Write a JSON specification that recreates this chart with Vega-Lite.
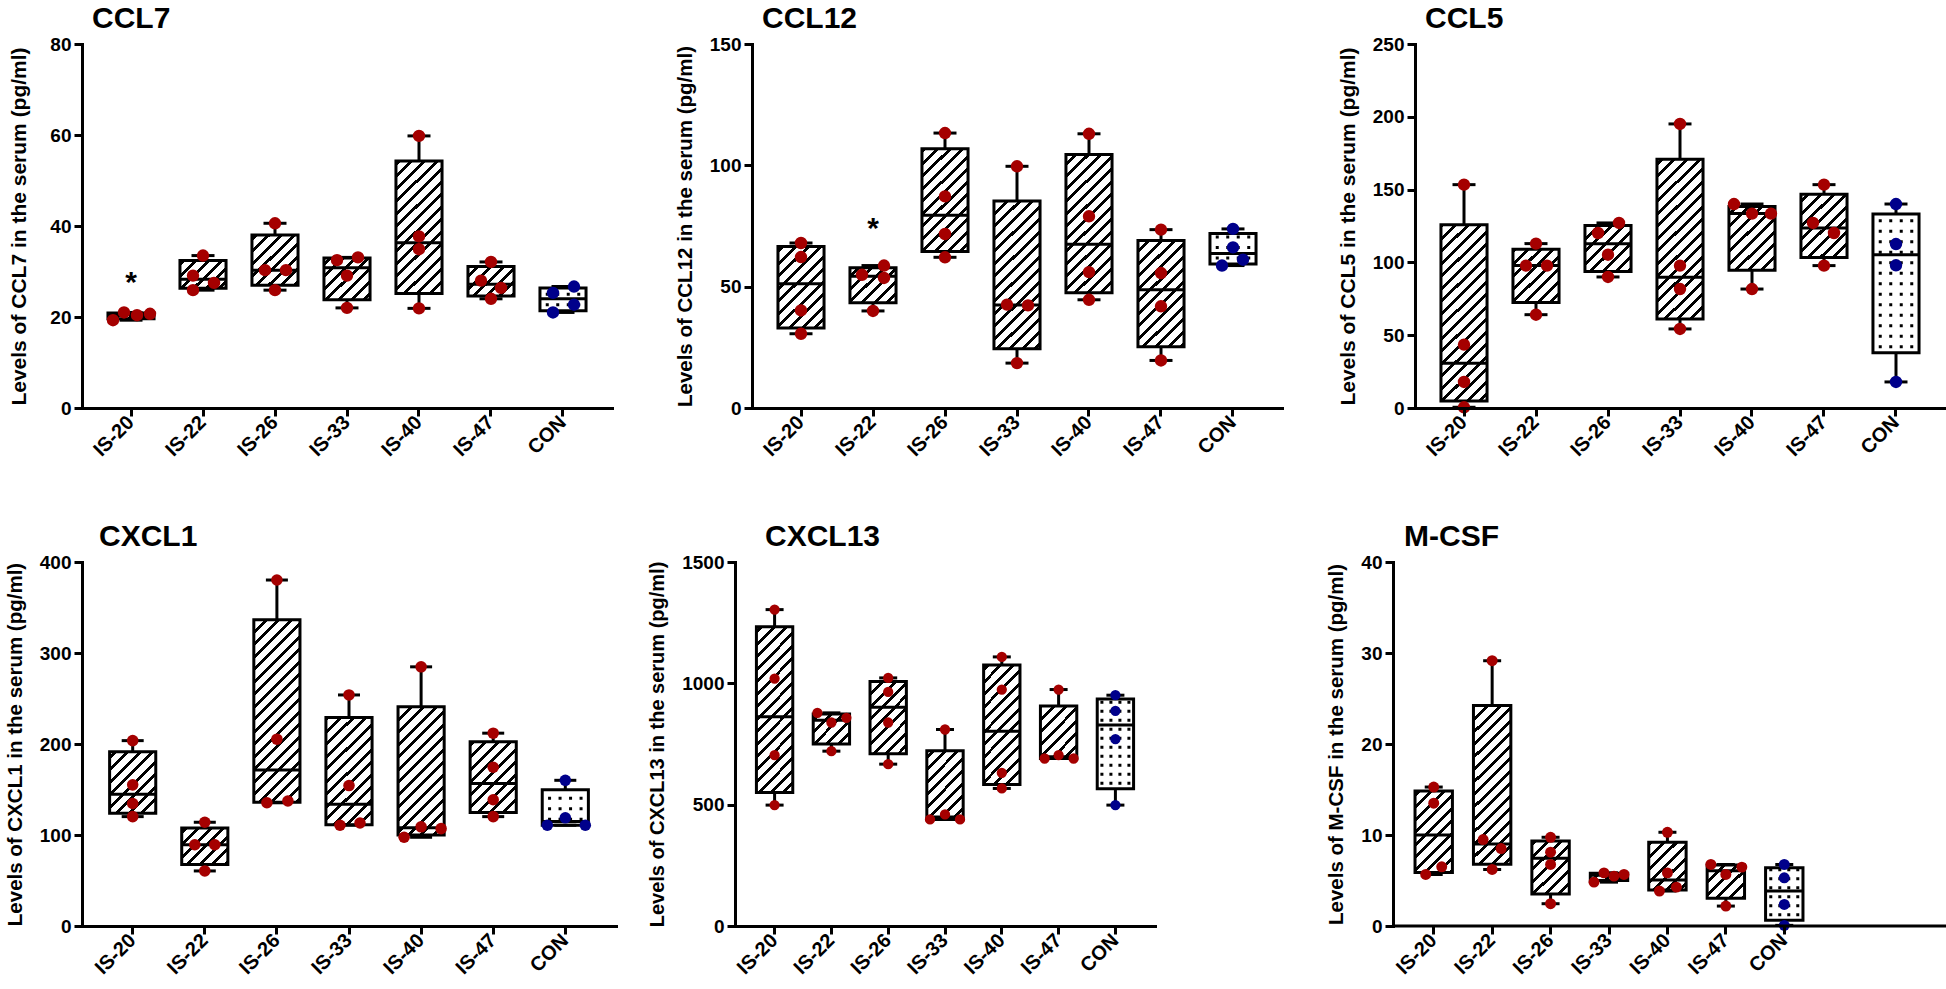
{
"$schema": "https://vega.github.io/schema/vega-lite/v6.json",
"background": "white",
"padding": {"left": 5, "top": 4, "right": 0, "bottom": 0},
"datasets": {
"box": [
{"panel":"CCL7","group":"IS-20","lo":19.3,"q1":19.6,"med":20.55,"q3":20.9,"hi":21.0},
{"panel":"CCL7","group":"IS-22","lo":25.9,"q1":26.3,"med":28.3,"q3":32.4,"hi":33.5},
{"panel":"CCL7","group":"IS-26","lo":25.9,"q1":27.0,"med":30.3,"q3":38.0,"hi":40.6},
{"panel":"CCL7","group":"IS-33","lo":22.0,"q1":23.8,"med":30.8,"q3":32.95,"hi":33.1},
{"panel":"CCL7","group":"IS-40","lo":21.9,"q1":25.15,"med":36.3,"q3":54.3,"hi":59.8},
{"panel":"CCL7","group":"IS-47","lo":24.0,"q1":24.6,"med":27.2,"q3":31.1,"hi":32.1},
{"panel":"CCL7","group":"CON","lo":21.0,"q1":21.4,"med":24.0,"q3":26.35,"hi":26.7},
{"panel":"CCL12","group":"IS-20","lo":30.6,"q1":33.0,"med":51.2,"q3":66.55,"hi":68.0},
{"panel":"CCL12","group":"IS-22","lo":40.0,"q1":43.4,"med":54.25,"q3":57.75,"hi":58.7},
{"panel":"CCL12","group":"IS-26","lo":62.1,"q1":64.5,"med":79.45,"q3":106.8,"hi":113.3},
{"panel":"CCL12","group":"IS-33","lo":18.5,"q1":24.45,"med":42.45,"q3":85.35,"hi":99.6},
{"panel":"CCL12","group":"IS-40","lo":44.6,"q1":47.45,"med":67.5,"q3":104.5,"hi":113.0},
{"panel":"CCL12","group":"IS-47","lo":19.6,"q1":25.2,"med":48.75,"q3":69.0,"hi":73.5},
{"panel":"CCL12","group":"CON","lo":58.7,"q1":59.3,"med":63.65,"q3":71.9,"hi":73.8},
{"panel":"CCL5","group":"IS-20","lo":0.5,"q1":4.85,"med":30.7,"q3":125.9,"hi":153.4},
{"panel":"CCL5","group":"IS-22","lo":64.1,"q1":72.5,"med":97.8,"q3":109.1,"hi":112.9},
{"panel":"CCL5","group":"IS-26","lo":90.0,"q1":93.8,"med":112.75,"q3":125.4,"hi":127.1},
{"panel":"CCL5","group":"IS-33","lo":54.3,"q1":61.15,"med":89.75,"q3":170.8,"hi":195.1},
{"panel":"CCL5","group":"IS-40","lo":81.7,"q1":94.65,"med":133.5,"q3":138.45,"hi":140.1},
{"panel":"CCL5","group":"IS-47","lo":97.8,"q1":103.4,"med":123.65,"q3":146.8,"hi":153.4},
{"panel":"CCL5","group":"CON","lo":17.9,"q1":37.9,"med":105.3,"q3":133.2,"hi":140.1},
{"panel":"CXCL1","group":"IS-20","lo":120.2,"q1":123.8,"med":144.85,"q3":191.55,"hi":203.7},
{"panel":"CXCL1","group":"IS-22","lo":60.5,"q1":67.7,"med":89.3,"q3":107.8,"hi":114.0},
{"panel":"CXCL1","group":"IS-26","lo":135.4,"q1":135.9,"med":171.35,"q3":336.5,"hi":380.2},
{"panel":"CXCL1","group":"IS-33","lo":110.7,"q1":111.3,"med":133.75,"q3":229.0,"hi":253.9},
{"panel":"CXCL1","group":"IS-40","lo":97.5,"q1":99.9,"med":108.0,"q3":240.85,"hi":284.8},
{"panel":"CXCL1","group":"IS-47","lo":120.2,"q1":124.8,"med":156.6,"q3":202.55,"hi":211.9},
{"panel":"CXCL1","group":"CON","lo":110.7,"q1":110.7,"med":114.8,"q3":149.8,"hi":160.1},
{"panel":"CXCL13","group":"IS-20","lo":498.2,"q1":549.7,"med":861.85,"q3":1232.8,"hi":1303.8},
{"panel":"CXCL13","group":"IS-22","lo":720.5,"q1":750.0,"med":848.2,"q3":873.2,"hi":878.3},
{"panel":"CXCL13","group":"IS-26","lo":667.0,"q1":709.9,"med":901.65,"q3":1008.0,"hi":1022.4},
{"panel":"CXCL13","group":"IS-33","lo":439.2,"q1":439.2,"med":449.5,"q3":722.2,"hi":809.7},
{"panel":"CXCL13","group":"IS-40","lo":566.8,"q1":582.9,"med":802.85,"q3":1075.3,"hi":1108.9},
{"panel":"CXCL13","group":"IS-47","lo":690.3,"q1":690.3,"med":697.15,"q3":906.8,"hi":974.4},
{"panel":"CXCL13","group":"CON","lo":498.2,"q1":566.1,"med":828.25,"q3":935.0,"hi":951.1},
{"panel":"M-CSF","group":"IS-20","lo":5.66,"q1":5.87,"med":10.0,"q3":14.83,"hi":15.27},
{"panel":"M-CSF","group":"IS-22","lo":6.21,"q1":6.79,"med":9.0,"q3":24.24,"hi":29.15},
{"panel":"M-CSF","group":"IS-26","lo":2.45,"q1":3.53,"med":7.44,"q3":9.34,"hi":9.75},
{"panel":"M-CSF","group":"IS-33","lo":4.82,"q1":4.99,"med":5.57,"q3":5.8,"hi":5.84},
{"panel":"M-CSF","group":"IS-40","lo":3.84,"q1":3.95,"med":5.06,"q3":9.19,"hi":10.3},
{"panel":"M-CSF","group":"IS-47","lo":2.19,"q1":3.06,"med":6.07,"q3":6.69,"hi":6.76},
{"panel":"M-CSF","group":"CON","lo":0.07,"q1":0.645,"med":3.835,"q3":6.4,"hi":6.76}
],
"pts": [
{"panel":"CCL7","group":"IS-20","v":19.3,"slot":-1.8},{"panel":"CCL7","group":"IS-20","v":21.0,"slot":-0.7},{"panel":"CCL7","group":"IS-20","v":20.4,"slot":0.6},{"panel":"CCL7","group":"IS-20","v":20.7,"slot":1.9},
{"panel":"CCL7","group":"IS-22","v":33.5,"slot":0},{"panel":"CCL7","group":"IS-22","v":29.1,"slot":-1},{"panel":"CCL7","group":"IS-22","v":25.9,"slot":-1},{"panel":"CCL7","group":"IS-22","v":27.5,"slot":1.1},
{"panel":"CCL7","group":"IS-26","v":40.6,"slot":0},{"panel":"CCL7","group":"IS-26","v":30.3,"slot":-1},{"panel":"CCL7","group":"IS-26","v":30.3,"slot":1.1},{"panel":"CCL7","group":"IS-26","v":25.9,"slot":0},
{"panel":"CCL7","group":"IS-33","v":32.5,"slot":-1},{"panel":"CCL7","group":"IS-33","v":33.1,"slot":1.1},{"panel":"CCL7","group":"IS-33","v":29.1,"slot":0},{"panel":"CCL7","group":"IS-33","v":22.0,"slot":0},
{"panel":"CCL7","group":"IS-40","v":59.8,"slot":0},{"panel":"CCL7","group":"IS-40","v":37.7,"slot":0},{"panel":"CCL7","group":"IS-40","v":34.9,"slot":0},{"panel":"CCL7","group":"IS-40","v":21.9,"slot":0},
{"panel":"CCL7","group":"IS-47","v":32.1,"slot":0},{"panel":"CCL7","group":"IS-47","v":28.0,"slot":-1},{"panel":"CCL7","group":"IS-47","v":26.4,"slot":1},{"panel":"CCL7","group":"IS-47","v":24.0,"slot":0},
{"panel":"CCL7","group":"CON","v":25.3,"slot":-1},{"panel":"CCL7","group":"CON","v":26.7,"slot":1.1},{"panel":"CCL7","group":"CON","v":22.7,"slot":1.1},{"panel":"CCL7","group":"CON","v":21.0,"slot":-1},
{"panel":"CCL12","group":"IS-20","v":68.0,"slot":0},{"panel":"CCL12","group":"IS-20","v":62.2,"slot":0},{"panel":"CCL12","group":"IS-20","v":40.2,"slot":0},{"panel":"CCL12","group":"IS-20","v":30.6,"slot":0},
{"panel":"CCL12","group":"IS-22","v":54.9,"slot":-1.1},{"panel":"CCL12","group":"IS-22","v":58.7,"slot":1.1},{"panel":"CCL12","group":"IS-22","v":53.6,"slot":1.1},{"panel":"CCL12","group":"IS-22","v":40.0,"slot":0},
{"panel":"CCL12","group":"IS-26","v":113.3,"slot":0},{"panel":"CCL12","group":"IS-26","v":87.2,"slot":0},{"panel":"CCL12","group":"IS-26","v":71.7,"slot":0},{"panel":"CCL12","group":"IS-26","v":62.1,"slot":0},
{"panel":"CCL12","group":"IS-33","v":99.6,"slot":0},{"panel":"CCL12","group":"IS-33","v":42.6,"slot":-1},{"panel":"CCL12","group":"IS-33","v":42.3,"slot":1.1},{"panel":"CCL12","group":"IS-33","v":18.5,"slot":0},
{"panel":"CCL12","group":"IS-40","v":113.0,"slot":0},{"panel":"CCL12","group":"IS-40","v":79.0,"slot":0},{"panel":"CCL12","group":"IS-40","v":56.0,"slot":0},{"panel":"CCL12","group":"IS-40","v":44.6,"slot":0},
{"panel":"CCL12","group":"IS-47","v":73.5,"slot":0},{"panel":"CCL12","group":"IS-47","v":55.6,"slot":0},{"panel":"CCL12","group":"IS-47","v":41.9,"slot":0},{"panel":"CCL12","group":"IS-47","v":19.6,"slot":0},
{"panel":"CCL12","group":"CON","v":73.8,"slot":0},{"panel":"CCL12","group":"CON","v":66.2,"slot":0},{"panel":"CCL12","group":"CON","v":61.1,"slot":1},{"panel":"CCL12","group":"CON","v":58.7,"slot":-1.1},
{"panel":"CCL5","group":"IS-20","v":153.4,"slot":0},{"panel":"CCL5","group":"IS-20","v":43.5,"slot":0},{"panel":"CCL5","group":"IS-20","v":17.9,"slot":0},{"panel":"CCL5","group":"IS-20","v":0.5,"slot":0},
{"panel":"CCL5","group":"IS-22","v":112.9,"slot":0},{"panel":"CCL5","group":"IS-22","v":97.8,"slot":-1},{"panel":"CCL5","group":"IS-22","v":97.8,"slot":1.1},{"panel":"CCL5","group":"IS-22","v":64.1,"slot":0},
{"panel":"CCL5","group":"IS-26","v":127.1,"slot":1.1},{"panel":"CCL5","group":"IS-26","v":120.2,"slot":-1},{"panel":"CCL5","group":"IS-26","v":105.3,"slot":0},{"panel":"CCL5","group":"IS-26","v":90.0,"slot":0},
{"panel":"CCL5","group":"IS-33","v":195.1,"slot":0},{"panel":"CCL5","group":"IS-33","v":97.8,"slot":0},{"panel":"CCL5","group":"IS-33","v":81.7,"slot":0},{"panel":"CCL5","group":"IS-33","v":54.3,"slot":0},
{"panel":"CCL5","group":"IS-40","v":140.1,"slot":-1.8},{"panel":"CCL5","group":"IS-40","v":133.5,"slot":0},{"panel":"CCL5","group":"IS-40","v":133.5,"slot":1.9},{"panel":"CCL5","group":"IS-40","v":81.7,"slot":0},
{"panel":"CCL5","group":"IS-47","v":153.4,"slot":0},{"panel":"CCL5","group":"IS-47","v":127.1,"slot":-1.1},{"panel":"CCL5","group":"IS-47","v":120.2,"slot":1},{"panel":"CCL5","group":"IS-47","v":97.8,"slot":0},
{"panel":"CCL5","group":"CON","v":140.1,"slot":0},{"panel":"CCL5","group":"CON","v":112.6,"slot":0},{"panel":"CCL5","group":"CON","v":98.0,"slot":0},{"panel":"CCL5","group":"CON","v":17.9,"slot":0},
{"panel":"CXCL1","group":"IS-20","v":203.7,"slot":0},{"panel":"CXCL1","group":"IS-20","v":155.1,"slot":0},{"panel":"CXCL1","group":"IS-20","v":134.6,"slot":0},{"panel":"CXCL1","group":"IS-20","v":120.2,"slot":0},
{"panel":"CXCL1","group":"IS-22","v":114.0,"slot":0},{"panel":"CXCL1","group":"IS-22","v":89.3,"slot":-1},{"panel":"CXCL1","group":"IS-22","v":89.3,"slot":1},{"panel":"CXCL1","group":"IS-22","v":60.5,"slot":0},
{"panel":"CXCL1","group":"IS-26","v":380.2,"slot":0},{"panel":"CXCL1","group":"IS-26","v":205.3,"slot":0},{"panel":"CXCL1","group":"IS-26","v":135.4,"slot":-1},{"panel":"CXCL1","group":"IS-26","v":137.4,"slot":1.1},
{"panel":"CXCL1","group":"IS-33","v":253.9,"slot":0},{"panel":"CXCL1","group":"IS-33","v":154.3,"slot":0},{"panel":"CXCL1","group":"IS-33","v":110.7,"slot":-0.9},{"panel":"CXCL1","group":"IS-33","v":113.2,"slot":1.1},
{"panel":"CXCL1","group":"IS-40","v":284.8,"slot":0},{"panel":"CXCL1","group":"IS-40","v":97.5,"slot":-1.7},{"panel":"CXCL1","group":"IS-40","v":109.0,"slot":0},{"panel":"CXCL1","group":"IS-40","v":107.0,"slot":2.0},
{"panel":"CXCL1","group":"IS-47","v":211.9,"slot":0},{"panel":"CXCL1","group":"IS-47","v":174.5,"slot":0},{"panel":"CXCL1","group":"IS-47","v":138.7,"slot":0},{"panel":"CXCL1","group":"IS-47","v":120.2,"slot":0},
{"panel":"CXCL1","group":"CON","v":160.1,"slot":0},{"panel":"CXCL1","group":"CON","v":118.9,"slot":0},{"panel":"CXCL1","group":"CON","v":110.7,"slot":-1.8},{"panel":"CXCL1","group":"CON","v":110.7,"slot":2.0},
{"panel":"CXCL13","group":"IS-20","v":1303.8,"slot":0},{"panel":"CXCL13","group":"IS-20","v":1019.7,"slot":0},{"panel":"CXCL13","group":"IS-20","v":704.0,"slot":0},{"panel":"CXCL13","group":"IS-20","v":498.2,"slot":0},
{"panel":"CXCL13","group":"IS-22","v":878.3,"slot":-1.4},{"panel":"CXCL13","group":"IS-22","v":857.8,"slot":1.5},{"panel":"CXCL13","group":"IS-22","v":838.5,"slot":0},{"panel":"CXCL13","group":"IS-22","v":720.5,"slot":0},
{"panel":"CXCL13","group":"IS-26","v":1022.4,"slot":0},{"panel":"CXCL13","group":"IS-26","v":964.8,"slot":0},{"panel":"CXCL13","group":"IS-26","v":838.5,"slot":0},{"panel":"CXCL13","group":"IS-26","v":667.0,"slot":0},
{"panel":"CXCL13","group":"IS-33","v":809.7,"slot":0},{"panel":"CXCL13","group":"IS-33","v":439.2,"slot":-1.5},{"panel":"CXCL13","group":"IS-33","v":459.8,"slot":0},{"panel":"CXCL13","group":"IS-33","v":439.2,"slot":1.5},
{"panel":"CXCL13","group":"IS-40","v":1108.9,"slot":0},{"panel":"CXCL13","group":"IS-40","v":974.4,"slot":0},{"panel":"CXCL13","group":"IS-40","v":631.3,"slot":0},{"panel":"CXCL13","group":"IS-40","v":566.8,"slot":0},
{"panel":"CXCL13","group":"IS-47","v":974.4,"slot":0},{"panel":"CXCL13","group":"IS-47","v":690.3,"slot":-1.4},{"panel":"CXCL13","group":"IS-47","v":704.0,"slot":0},{"panel":"CXCL13","group":"IS-47","v":690.3,"slot":1.5},
{"panel":"CXCL13","group":"CON","v":951.1,"slot":0},{"panel":"CXCL13","group":"CON","v":886.6,"slot":0},{"panel":"CXCL13","group":"CON","v":769.9,"slot":0},{"panel":"CXCL13","group":"CON","v":498.2,"slot":0},
{"panel":"M-CSF","group":"IS-20","v":15.27,"slot":0},{"panel":"M-CSF","group":"IS-20","v":13.5,"slot":0},{"panel":"M-CSF","group":"IS-20","v":5.66,"slot":-0.8},{"panel":"M-CSF","group":"IS-20","v":6.5,"slot":0.8},
{"panel":"M-CSF","group":"IS-22","v":29.15,"slot":0},{"panel":"M-CSF","group":"IS-22","v":9.5,"slot":-0.9},{"panel":"M-CSF","group":"IS-22","v":8.51,"slot":0.9},{"panel":"M-CSF","group":"IS-22","v":6.21,"slot":0},
{"panel":"M-CSF","group":"IS-26","v":9.75,"slot":0},{"panel":"M-CSF","group":"IS-26","v":8.11,"slot":0},{"panel":"M-CSF","group":"IS-26","v":6.76,"slot":0},{"panel":"M-CSF","group":"IS-26","v":2.45,"slot":0},
{"panel":"M-CSF","group":"IS-33","v":4.82,"slot":-1.5},{"panel":"M-CSF","group":"IS-33","v":5.84,"slot":-0.5},{"panel":"M-CSF","group":"IS-33","v":5.48,"slot":0.5},{"panel":"M-CSF","group":"IS-33","v":5.66,"slot":1.5},
{"panel":"M-CSF","group":"IS-40","v":10.3,"slot":0},{"panel":"M-CSF","group":"IS-40","v":5.84,"slot":0},{"panel":"M-CSF","group":"IS-40","v":3.84,"slot":-0.8},{"panel":"M-CSF","group":"IS-40","v":4.27,"slot":0.9},
{"panel":"M-CSF","group":"IS-47","v":6.76,"slot":-1.5},{"panel":"M-CSF","group":"IS-47","v":6.47,"slot":1.6},{"panel":"M-CSF","group":"IS-47","v":5.66,"slot":0},{"panel":"M-CSF","group":"IS-47","v":2.19,"slot":0},
{"panel":"M-CSF","group":"CON","v":6.76,"slot":0},{"panel":"M-CSF","group":"CON","v":5.3,"slot":0},{"panel":"M-CSF","group":"CON","v":2.37,"slot":0},{"panel":"M-CSF","group":"CON","v":0.07,"slot":0}
],
"ann": [
{"panel":"CCL7","group":"IS-20","v":29.2,"label":"*"},
{"panel":"CCL12","group":"IS-22","v":77.0,"label":"*"}
]
},
"vconcat": [
{"spacing": 63, "hconcat": [
{
"width": 530, "height": 364,
"title": {"text": "CCL7", "dx": 10},
"encoding": {"x": {"field": "group", "type": "nominal", "title": null, "axis": {"zindex": 1}, "scale": {"type": "band", "domain": ["IS-20","IS-22","IS-26","IS-33","IS-40","IS-47","CON"], "paddingInner": 0.36, "paddingOuter": 0.3606}}},
"layer": [
{"data": {"name": "box"}, "transform": [{"filter": "datum.panel === 'CCL7' && datum.group !== 'CON'"}], "mark": {"type": "bar", "fill": {"gradient": "linear", "x1": 0, "y1": 0, "x2": 0.1401, "y2": 1.1087, "stops": [
{"offset":0.01463,"color":"#fff"},{"offset":0.01463,"color":"#000"},{"offset":0.02439,"color":"#000"},{"offset":0.02439,"color":"#fff"},
{"offset":0.04512,"color":"#fff"},{"offset":0.04512,"color":"#000"},{"offset":0.05488,"color":"#000"},{"offset":0.05488,"color":"#fff"},
{"offset":0.07561,"color":"#fff"},{"offset":0.07561,"color":"#000"},{"offset":0.08537,"color":"#000"},{"offset":0.08537,"color":"#fff"},
{"offset":0.1061,"color":"#fff"},{"offset":0.1061,"color":"#000"},{"offset":0.11585,"color":"#000"},{"offset":0.11585,"color":"#fff"},
{"offset":0.13659,"color":"#fff"},{"offset":0.13659,"color":"#000"},{"offset":0.14634,"color":"#000"},{"offset":0.14634,"color":"#fff"},
{"offset":0.16707,"color":"#fff"},{"offset":0.16707,"color":"#000"},{"offset":0.17683,"color":"#000"},{"offset":0.17683,"color":"#fff"},
{"offset":0.19756,"color":"#fff"},{"offset":0.19756,"color":"#000"},{"offset":0.20732,"color":"#000"},{"offset":0.20732,"color":"#fff"},
{"offset":0.22805,"color":"#fff"},{"offset":0.22805,"color":"#000"},{"offset":0.2378,"color":"#000"},{"offset":0.2378,"color":"#fff"},
{"offset":0.25854,"color":"#fff"},{"offset":0.25854,"color":"#000"},{"offset":0.26829,"color":"#000"},{"offset":0.26829,"color":"#fff"},
{"offset":0.28902,"color":"#fff"},{"offset":0.28902,"color":"#000"},{"offset":0.29878,"color":"#000"},{"offset":0.29878,"color":"#fff"},
{"offset":0.31951,"color":"#fff"},{"offset":0.31951,"color":"#000"},{"offset":0.32927,"color":"#000"},{"offset":0.32927,"color":"#fff"},
{"offset":0.35,"color":"#fff"},{"offset":0.35,"color":"#000"},{"offset":0.35976,"color":"#000"},{"offset":0.35976,"color":"#fff"},
{"offset":0.38049,"color":"#fff"},{"offset":0.38049,"color":"#000"},{"offset":0.39024,"color":"#000"},{"offset":0.39024,"color":"#fff"},
{"offset":0.41098,"color":"#fff"},{"offset":0.41098,"color":"#000"},{"offset":0.42073,"color":"#000"},{"offset":0.42073,"color":"#fff"},
{"offset":0.44146,"color":"#fff"},{"offset":0.44146,"color":"#000"},{"offset":0.45122,"color":"#000"},{"offset":0.45122,"color":"#fff"},
{"offset":0.47195,"color":"#fff"},{"offset":0.47195,"color":"#000"},{"offset":0.48171,"color":"#000"},{"offset":0.48171,"color":"#fff"},
{"offset":0.50244,"color":"#fff"},{"offset":0.50244,"color":"#000"},{"offset":0.5122,"color":"#000"},{"offset":0.5122,"color":"#fff"},
{"offset":0.53293,"color":"#fff"},{"offset":0.53293,"color":"#000"},{"offset":0.54268,"color":"#000"},{"offset":0.54268,"color":"#fff"},
{"offset":0.56341,"color":"#fff"},{"offset":0.56341,"color":"#000"},{"offset":0.57317,"color":"#000"},{"offset":0.57317,"color":"#fff"},
{"offset":0.5939,"color":"#fff"},{"offset":0.5939,"color":"#000"},{"offset":0.60366,"color":"#000"},{"offset":0.60366,"color":"#fff"},
{"offset":0.62439,"color":"#fff"},{"offset":0.62439,"color":"#000"},{"offset":0.63415,"color":"#000"},{"offset":0.63415,"color":"#fff"},
{"offset":0.65488,"color":"#fff"},{"offset":0.65488,"color":"#000"},{"offset":0.66463,"color":"#000"},{"offset":0.66463,"color":"#fff"},
{"offset":0.68537,"color":"#fff"},{"offset":0.68537,"color":"#000"},{"offset":0.69512,"color":"#000"},{"offset":0.69512,"color":"#fff"},
{"offset":0.71585,"color":"#fff"},{"offset":0.71585,"color":"#000"},{"offset":0.72561,"color":"#000"},{"offset":0.72561,"color":"#fff"},
{"offset":0.74634,"color":"#fff"},{"offset":0.74634,"color":"#000"},{"offset":0.7561,"color":"#000"},{"offset":0.7561,"color":"#fff"},
{"offset":0.77683,"color":"#fff"},{"offset":0.77683,"color":"#000"},{"offset":0.78659,"color":"#000"},{"offset":0.78659,"color":"#fff"},
{"offset":0.80732,"color":"#fff"},{"offset":0.80732,"color":"#000"},{"offset":0.81707,"color":"#000"},{"offset":0.81707,"color":"#fff"},
{"offset":0.8378,"color":"#fff"},{"offset":0.8378,"color":"#000"},{"offset":0.84756,"color":"#000"},{"offset":0.84756,"color":"#fff"},
{"offset":0.86829,"color":"#fff"},{"offset":0.86829,"color":"#000"},{"offset":0.87805,"color":"#000"},{"offset":0.87805,"color":"#fff"},
{"offset":0.89878,"color":"#fff"},{"offset":0.89878,"color":"#000"},{"offset":0.90854,"color":"#000"},{"offset":0.90854,"color":"#fff"},
{"offset":0.92927,"color":"#fff"},{"offset":0.92927,"color":"#000"},{"offset":0.93902,"color":"#000"},{"offset":0.93902,"color":"#fff"},
{"offset":0.95976,"color":"#fff"},{"offset":0.95976,"color":"#000"},{"offset":0.96951,"color":"#000"},{"offset":0.96951,"color":"#fff"},
{"offset":0.99024,"color":"#fff"},{"offset":0.99024,"color":"#000"},{"offset":1,"color":"#000"}
]}}, "encoding": {"y": {"datum": 0, "type": "quantitative", "scale": {"domain": [0, 80], "nice": false}}, "y2": {"datum": 80}}},
{"data": {"name": "box"}, "transform": [{"filter": "datum.panel === 'CCL7' && datum.group !== 'CON'"}], "mark": {"type": "bar", "fill": "white", "width": {"band": 1.12}}, "encoding": {"y": {"field": "q1", "type": "quantitative", "scale": {"domain": [0, 80], "nice": false}, "title": "Levels of  CCL7 in the serum (pg/ml)"}, "y2": {"datum": 0}}},
{"data": {"name": "box"}, "transform": [{"filter": "datum.panel === 'CCL7' && datum.group !== 'CON'"}], "mark": {"type": "bar", "fill": "white", "width": {"band": 1.12}}, "encoding": {"y": {"field": "q3", "type": "quantitative", "scale": {"domain": [0, 80], "nice": false}, "title": "Levels of  CCL7 in the serum (pg/ml)"}, "y2": {"datum": 80}}},
{"data": {"name": "box"}, "transform": [{"filter": "datum.panel === 'CCL7'"}], "mark": {"type": "bar", "fill": "white", "stroke": "black", "strokeWidth": 3}, "encoding": {"y": {"field": "q1", "type": "quantitative", "scale": {"domain": [0, 80], "nice": false}, "axis": {"values": [0,20,40,60,80], "format": "d", "minExtent": 39, "zindex": 1, "titleFontSize": 21}, "title": "Levels of  CCL7 in the serum (pg/ml)"}, "y2": {"field": "q3"}, "fillOpacity": {"condition": {"test": "datum.group === 'CON'", "value": 1}, "value": 0}}},
{"data": {"name": "box"}, "transform": [{"filter": "datum.panel === 'CCL7' && datum.group === 'CON'"}, {"fold": ["lo", "q1", "med", "q3"], "as": ["k", "kv"]}], "mark": {"type": "rule", "color": "black", "strokeWidth": 3, "strokeDash": [3, 7.5], "strokeDashOffset": 6, "xOffset": {"expr": "indexof(['lo','q1','med','q3'], datum.k) * 10.5 - 15.75"}}, "encoding": {"y": {"field": "q1", "type": "quantitative", "scale": {"domain": [0, 80], "nice": false}, "title": "Levels of  CCL7 in the serum (pg/ml)"}, "y2": {"field": "q3"}}},
{"data": {"name": "box"}, "transform": [{"filter": "datum.panel === 'CCL7'"}], "mark": {"type": "tick", "color": "black", "opacity": 1, "thickness": 3, "size": 46}, "encoding": {"y": {"field": "med", "type": "quantitative", "scale": {"domain": [0, 80], "nice": false}, "title": "Levels of  CCL7 in the serum (pg/ml)"}}},
{"data": {"name": "box"}, "transform": [{"filter": "datum.panel === 'CCL7'"}], "mark": {"type": "rule", "color": "black", "strokeWidth": 3}, "encoding": {"y": {"field": "lo", "type": "quantitative", "scale": {"domain": [0, 80], "nice": false}, "title": "Levels of  CCL7 in the serum (pg/ml)"}, "y2": {"field": "q1"}}},
{"data": {"name": "box"}, "transform": [{"filter": "datum.panel === 'CCL7'"}], "mark": {"type": "rule", "color": "black", "strokeWidth": 3}, "encoding": {"y": {"field": "q3", "type": "quantitative", "scale": {"domain": [0, 80], "nice": false}, "title": "Levels of  CCL7 in the serum (pg/ml)"}, "y2": {"field": "hi"}}},
{"data": {"name": "box"}, "transform": [{"filter": "datum.panel === 'CCL7'"}, {"fold": ["lo", "hi"], "as": ["k", "v"]}], "mark": {"type": "tick", "color": "black", "opacity": 1, "thickness": 3, "size": 23}, "encoding": {"y": {"field": "v", "type": "quantitative", "scale": {"domain": [0, 80], "nice": false}, "title": "Levels of  CCL7 in the serum (pg/ml)"}}},
{"data": {"name": "pts"}, "transform": [{"filter": "datum.panel === 'CCL7'"}], "mark": {"type": "circle", "opacity": 1, "size": 154, "xOffset": {"expr": "datum.slot * 10"}}, "encoding": {"y": {"field": "v", "type": "quantitative", "scale": {"domain": [0, 80], "nice": false}, "title": "Levels of  CCL7 in the serum (pg/ml)"}, "color": {"condition": {"test": "datum.group === 'CON'", "value": "#00008b"}, "value": "#a50000"}}},
{"data": {"name": "ann"}, "transform": [{"filter": "datum.panel === 'CCL7'"}], "mark": {"type": "text", "fontSize": 30, "fontWeight": "bold", "baseline": "alphabetic", "dy": 17, "color": "black"}, "encoding": {"y": {"field": "v", "type": "quantitative", "scale": {"domain": [0, 80], "nice": false}, "title": "Levels of  CCL7 in the serum (pg/ml)"}, "text": {"field": "label"}}}
]
},
{"spacing": 55, "hconcat": [
{
"width": 530, "height": 364,
"title": {"text": "CCL12", "dx": 10},
"encoding": {"x": {"field": "group", "type": "nominal", "title": null, "axis": {"zindex": 1}, "scale": {"type": "band", "domain": ["IS-20","IS-22","IS-26","IS-33","IS-40","IS-47","CON"], "paddingInner": 0.36, "paddingOuter": 0.3606}}},
"layer": [
{"data": {"name": "box"}, "transform": [{"filter": "datum.panel === 'CCL12' && datum.group !== 'CON'"}], "mark": {"type": "bar", "fill": {"gradient": "linear", "x1": 0, "y1": 0, "x2": 0.1401, "y2": 1.1087, "stops": [
{"offset":0.01463,"color":"#fff"},{"offset":0.01463,"color":"#000"},{"offset":0.02439,"color":"#000"},{"offset":0.02439,"color":"#fff"},
{"offset":0.04512,"color":"#fff"},{"offset":0.04512,"color":"#000"},{"offset":0.05488,"color":"#000"},{"offset":0.05488,"color":"#fff"},
{"offset":0.07561,"color":"#fff"},{"offset":0.07561,"color":"#000"},{"offset":0.08537,"color":"#000"},{"offset":0.08537,"color":"#fff"},
{"offset":0.1061,"color":"#fff"},{"offset":0.1061,"color":"#000"},{"offset":0.11585,"color":"#000"},{"offset":0.11585,"color":"#fff"},
{"offset":0.13659,"color":"#fff"},{"offset":0.13659,"color":"#000"},{"offset":0.14634,"color":"#000"},{"offset":0.14634,"color":"#fff"},
{"offset":0.16707,"color":"#fff"},{"offset":0.16707,"color":"#000"},{"offset":0.17683,"color":"#000"},{"offset":0.17683,"color":"#fff"},
{"offset":0.19756,"color":"#fff"},{"offset":0.19756,"color":"#000"},{"offset":0.20732,"color":"#000"},{"offset":0.20732,"color":"#fff"},
{"offset":0.22805,"color":"#fff"},{"offset":0.22805,"color":"#000"},{"offset":0.2378,"color":"#000"},{"offset":0.2378,"color":"#fff"},
{"offset":0.25854,"color":"#fff"},{"offset":0.25854,"color":"#000"},{"offset":0.26829,"color":"#000"},{"offset":0.26829,"color":"#fff"},
{"offset":0.28902,"color":"#fff"},{"offset":0.28902,"color":"#000"},{"offset":0.29878,"color":"#000"},{"offset":0.29878,"color":"#fff"},
{"offset":0.31951,"color":"#fff"},{"offset":0.31951,"color":"#000"},{"offset":0.32927,"color":"#000"},{"offset":0.32927,"color":"#fff"},
{"offset":0.35,"color":"#fff"},{"offset":0.35,"color":"#000"},{"offset":0.35976,"color":"#000"},{"offset":0.35976,"color":"#fff"},
{"offset":0.38049,"color":"#fff"},{"offset":0.38049,"color":"#000"},{"offset":0.39024,"color":"#000"},{"offset":0.39024,"color":"#fff"},
{"offset":0.41098,"color":"#fff"},{"offset":0.41098,"color":"#000"},{"offset":0.42073,"color":"#000"},{"offset":0.42073,"color":"#fff"},
{"offset":0.44146,"color":"#fff"},{"offset":0.44146,"color":"#000"},{"offset":0.45122,"color":"#000"},{"offset":0.45122,"color":"#fff"},
{"offset":0.47195,"color":"#fff"},{"offset":0.47195,"color":"#000"},{"offset":0.48171,"color":"#000"},{"offset":0.48171,"color":"#fff"},
{"offset":0.50244,"color":"#fff"},{"offset":0.50244,"color":"#000"},{"offset":0.5122,"color":"#000"},{"offset":0.5122,"color":"#fff"},
{"offset":0.53293,"color":"#fff"},{"offset":0.53293,"color":"#000"},{"offset":0.54268,"color":"#000"},{"offset":0.54268,"color":"#fff"},
{"offset":0.56341,"color":"#fff"},{"offset":0.56341,"color":"#000"},{"offset":0.57317,"color":"#000"},{"offset":0.57317,"color":"#fff"},
{"offset":0.5939,"color":"#fff"},{"offset":0.5939,"color":"#000"},{"offset":0.60366,"color":"#000"},{"offset":0.60366,"color":"#fff"},
{"offset":0.62439,"color":"#fff"},{"offset":0.62439,"color":"#000"},{"offset":0.63415,"color":"#000"},{"offset":0.63415,"color":"#fff"},
{"offset":0.65488,"color":"#fff"},{"offset":0.65488,"color":"#000"},{"offset":0.66463,"color":"#000"},{"offset":0.66463,"color":"#fff"},
{"offset":0.68537,"color":"#fff"},{"offset":0.68537,"color":"#000"},{"offset":0.69512,"color":"#000"},{"offset":0.69512,"color":"#fff"},
{"offset":0.71585,"color":"#fff"},{"offset":0.71585,"color":"#000"},{"offset":0.72561,"color":"#000"},{"offset":0.72561,"color":"#fff"},
{"offset":0.74634,"color":"#fff"},{"offset":0.74634,"color":"#000"},{"offset":0.7561,"color":"#000"},{"offset":0.7561,"color":"#fff"},
{"offset":0.77683,"color":"#fff"},{"offset":0.77683,"color":"#000"},{"offset":0.78659,"color":"#000"},{"offset":0.78659,"color":"#fff"},
{"offset":0.80732,"color":"#fff"},{"offset":0.80732,"color":"#000"},{"offset":0.81707,"color":"#000"},{"offset":0.81707,"color":"#fff"},
{"offset":0.8378,"color":"#fff"},{"offset":0.8378,"color":"#000"},{"offset":0.84756,"color":"#000"},{"offset":0.84756,"color":"#fff"},
{"offset":0.86829,"color":"#fff"},{"offset":0.86829,"color":"#000"},{"offset":0.87805,"color":"#000"},{"offset":0.87805,"color":"#fff"},
{"offset":0.89878,"color":"#fff"},{"offset":0.89878,"color":"#000"},{"offset":0.90854,"color":"#000"},{"offset":0.90854,"color":"#fff"},
{"offset":0.92927,"color":"#fff"},{"offset":0.92927,"color":"#000"},{"offset":0.93902,"color":"#000"},{"offset":0.93902,"color":"#fff"},
{"offset":0.95976,"color":"#fff"},{"offset":0.95976,"color":"#000"},{"offset":0.96951,"color":"#000"},{"offset":0.96951,"color":"#fff"},
{"offset":0.99024,"color":"#fff"},{"offset":0.99024,"color":"#000"},{"offset":1,"color":"#000"}
]}}, "encoding": {"y": {"datum": 0, "type": "quantitative", "scale": {"domain": [0, 150], "nice": false}}, "y2": {"datum": 150}}},
{"data": {"name": "box"}, "transform": [{"filter": "datum.panel === 'CCL12' && datum.group !== 'CON'"}], "mark": {"type": "bar", "fill": "white", "width": {"band": 1.12}}, "encoding": {"y": {"field": "q1", "type": "quantitative", "scale": {"domain": [0, 150], "nice": false}, "title": "Levels of  CCL12 in the serum (pg/ml)"}, "y2": {"datum": 0}}},
{"data": {"name": "box"}, "transform": [{"filter": "datum.panel === 'CCL12' && datum.group !== 'CON'"}], "mark": {"type": "bar", "fill": "white", "width": {"band": 1.12}}, "encoding": {"y": {"field": "q3", "type": "quantitative", "scale": {"domain": [0, 150], "nice": false}, "title": "Levels of  CCL12 in the serum (pg/ml)"}, "y2": {"datum": 150}}},
{"data": {"name": "box"}, "transform": [{"filter": "datum.panel === 'CCL12'"}], "mark": {"type": "bar", "fill": "white", "stroke": "black", "strokeWidth": 3}, "encoding": {"y": {"field": "q1", "type": "quantitative", "scale": {"domain": [0, 150], "nice": false}, "axis": {"values": [0,50,100,150], "format": "d", "zindex": 1, "titleFontSize": 20.5}, "title": "Levels of  CCL12 in the serum (pg/ml)"}, "y2": {"field": "q3"}, "fillOpacity": {"condition": {"test": "datum.group === 'CON'", "value": 1}, "value": 0}}},
{"data": {"name": "box"}, "transform": [{"filter": "datum.panel === 'CCL12' && datum.group === 'CON'"}, {"fold": ["lo", "q1", "med", "q3"], "as": ["k", "kv"]}], "mark": {"type": "rule", "color": "black", "strokeWidth": 3, "strokeDash": [3, 7.5], "strokeDashOffset": 6, "xOffset": {"expr": "indexof(['lo','q1','med','q3'], datum.k) * 10.5 - 15.75"}}, "encoding": {"y": {"field": "q1", "type": "quantitative", "scale": {"domain": [0, 150], "nice": false}, "title": "Levels of  CCL12 in the serum (pg/ml)"}, "y2": {"field": "q3"}}},
{"data": {"name": "box"}, "transform": [{"filter": "datum.panel === 'CCL12'"}], "mark": {"type": "tick", "color": "black", "opacity": 1, "thickness": 3, "size": 46}, "encoding": {"y": {"field": "med", "type": "quantitative", "scale": {"domain": [0, 150], "nice": false}, "title": "Levels of  CCL12 in the serum (pg/ml)"}}},
{"data": {"name": "box"}, "transform": [{"filter": "datum.panel === 'CCL12'"}], "mark": {"type": "rule", "color": "black", "strokeWidth": 3}, "encoding": {"y": {"field": "lo", "type": "quantitative", "scale": {"domain": [0, 150], "nice": false}, "title": "Levels of  CCL12 in the serum (pg/ml)"}, "y2": {"field": "q1"}}},
{"data": {"name": "box"}, "transform": [{"filter": "datum.panel === 'CCL12'"}], "mark": {"type": "rule", "color": "black", "strokeWidth": 3}, "encoding": {"y": {"field": "q3", "type": "quantitative", "scale": {"domain": [0, 150], "nice": false}, "title": "Levels of  CCL12 in the serum (pg/ml)"}, "y2": {"field": "hi"}}},
{"data": {"name": "box"}, "transform": [{"filter": "datum.panel === 'CCL12'"}, {"fold": ["lo", "hi"], "as": ["k", "v"]}], "mark": {"type": "tick", "color": "black", "opacity": 1, "thickness": 3, "size": 23}, "encoding": {"y": {"field": "v", "type": "quantitative", "scale": {"domain": [0, 150], "nice": false}, "title": "Levels of  CCL12 in the serum (pg/ml)"}}},
{"data": {"name": "pts"}, "transform": [{"filter": "datum.panel === 'CCL12'"}], "mark": {"type": "circle", "opacity": 1, "size": 154, "xOffset": {"expr": "datum.slot * 10"}}, "encoding": {"y": {"field": "v", "type": "quantitative", "scale": {"domain": [0, 150], "nice": false}, "title": "Levels of  CCL12 in the serum (pg/ml)"}, "color": {"condition": {"test": "datum.group === 'CON'", "value": "#00008b"}, "value": "#a50000"}}},
{"data": {"name": "ann"}, "transform": [{"filter": "datum.panel === 'CCL12'"}], "mark": {"type": "text", "fontSize": 30, "fontWeight": "bold", "baseline": "alphabetic", "dy": 17, "color": "black"}, "encoding": {"y": {"field": "v", "type": "quantitative", "scale": {"domain": [0, 150], "nice": false}, "title": "Levels of  CCL12 in the serum (pg/ml)"}, "text": {"field": "label"}}}
]
},
{
"width": 530, "height": 364,
"title": {"text": "CCL5", "dx": 10},
"encoding": {"x": {"field": "group", "type": "nominal", "title": null, "axis": {"zindex": 1}, "scale": {"type": "band", "domain": ["IS-20","IS-22","IS-26","IS-33","IS-40","IS-47","CON"], "paddingInner": 0.36, "paddingOuter": 0.3606}}},
"layer": [
{"data": {"name": "box"}, "transform": [{"filter": "datum.panel === 'CCL5' && datum.group !== 'CON'"}], "mark": {"type": "bar", "fill": {"gradient": "linear", "x1": 0, "y1": 0, "x2": 0.1401, "y2": 1.1087, "stops": [
{"offset":0.01463,"color":"#fff"},{"offset":0.01463,"color":"#000"},{"offset":0.02439,"color":"#000"},{"offset":0.02439,"color":"#fff"},
{"offset":0.04512,"color":"#fff"},{"offset":0.04512,"color":"#000"},{"offset":0.05488,"color":"#000"},{"offset":0.05488,"color":"#fff"},
{"offset":0.07561,"color":"#fff"},{"offset":0.07561,"color":"#000"},{"offset":0.08537,"color":"#000"},{"offset":0.08537,"color":"#fff"},
{"offset":0.1061,"color":"#fff"},{"offset":0.1061,"color":"#000"},{"offset":0.11585,"color":"#000"},{"offset":0.11585,"color":"#fff"},
{"offset":0.13659,"color":"#fff"},{"offset":0.13659,"color":"#000"},{"offset":0.14634,"color":"#000"},{"offset":0.14634,"color":"#fff"},
{"offset":0.16707,"color":"#fff"},{"offset":0.16707,"color":"#000"},{"offset":0.17683,"color":"#000"},{"offset":0.17683,"color":"#fff"},
{"offset":0.19756,"color":"#fff"},{"offset":0.19756,"color":"#000"},{"offset":0.20732,"color":"#000"},{"offset":0.20732,"color":"#fff"},
{"offset":0.22805,"color":"#fff"},{"offset":0.22805,"color":"#000"},{"offset":0.2378,"color":"#000"},{"offset":0.2378,"color":"#fff"},
{"offset":0.25854,"color":"#fff"},{"offset":0.25854,"color":"#000"},{"offset":0.26829,"color":"#000"},{"offset":0.26829,"color":"#fff"},
{"offset":0.28902,"color":"#fff"},{"offset":0.28902,"color":"#000"},{"offset":0.29878,"color":"#000"},{"offset":0.29878,"color":"#fff"},
{"offset":0.31951,"color":"#fff"},{"offset":0.31951,"color":"#000"},{"offset":0.32927,"color":"#000"},{"offset":0.32927,"color":"#fff"},
{"offset":0.35,"color":"#fff"},{"offset":0.35,"color":"#000"},{"offset":0.35976,"color":"#000"},{"offset":0.35976,"color":"#fff"},
{"offset":0.38049,"color":"#fff"},{"offset":0.38049,"color":"#000"},{"offset":0.39024,"color":"#000"},{"offset":0.39024,"color":"#fff"},
{"offset":0.41098,"color":"#fff"},{"offset":0.41098,"color":"#000"},{"offset":0.42073,"color":"#000"},{"offset":0.42073,"color":"#fff"},
{"offset":0.44146,"color":"#fff"},{"offset":0.44146,"color":"#000"},{"offset":0.45122,"color":"#000"},{"offset":0.45122,"color":"#fff"},
{"offset":0.47195,"color":"#fff"},{"offset":0.47195,"color":"#000"},{"offset":0.48171,"color":"#000"},{"offset":0.48171,"color":"#fff"},
{"offset":0.50244,"color":"#fff"},{"offset":0.50244,"color":"#000"},{"offset":0.5122,"color":"#000"},{"offset":0.5122,"color":"#fff"},
{"offset":0.53293,"color":"#fff"},{"offset":0.53293,"color":"#000"},{"offset":0.54268,"color":"#000"},{"offset":0.54268,"color":"#fff"},
{"offset":0.56341,"color":"#fff"},{"offset":0.56341,"color":"#000"},{"offset":0.57317,"color":"#000"},{"offset":0.57317,"color":"#fff"},
{"offset":0.5939,"color":"#fff"},{"offset":0.5939,"color":"#000"},{"offset":0.60366,"color":"#000"},{"offset":0.60366,"color":"#fff"},
{"offset":0.62439,"color":"#fff"},{"offset":0.62439,"color":"#000"},{"offset":0.63415,"color":"#000"},{"offset":0.63415,"color":"#fff"},
{"offset":0.65488,"color":"#fff"},{"offset":0.65488,"color":"#000"},{"offset":0.66463,"color":"#000"},{"offset":0.66463,"color":"#fff"},
{"offset":0.68537,"color":"#fff"},{"offset":0.68537,"color":"#000"},{"offset":0.69512,"color":"#000"},{"offset":0.69512,"color":"#fff"},
{"offset":0.71585,"color":"#fff"},{"offset":0.71585,"color":"#000"},{"offset":0.72561,"color":"#000"},{"offset":0.72561,"color":"#fff"},
{"offset":0.74634,"color":"#fff"},{"offset":0.74634,"color":"#000"},{"offset":0.7561,"color":"#000"},{"offset":0.7561,"color":"#fff"},
{"offset":0.77683,"color":"#fff"},{"offset":0.77683,"color":"#000"},{"offset":0.78659,"color":"#000"},{"offset":0.78659,"color":"#fff"},
{"offset":0.80732,"color":"#fff"},{"offset":0.80732,"color":"#000"},{"offset":0.81707,"color":"#000"},{"offset":0.81707,"color":"#fff"},
{"offset":0.8378,"color":"#fff"},{"offset":0.8378,"color":"#000"},{"offset":0.84756,"color":"#000"},{"offset":0.84756,"color":"#fff"},
{"offset":0.86829,"color":"#fff"},{"offset":0.86829,"color":"#000"},{"offset":0.87805,"color":"#000"},{"offset":0.87805,"color":"#fff"},
{"offset":0.89878,"color":"#fff"},{"offset":0.89878,"color":"#000"},{"offset":0.90854,"color":"#000"},{"offset":0.90854,"color":"#fff"},
{"offset":0.92927,"color":"#fff"},{"offset":0.92927,"color":"#000"},{"offset":0.93902,"color":"#000"},{"offset":0.93902,"color":"#fff"},
{"offset":0.95976,"color":"#fff"},{"offset":0.95976,"color":"#000"},{"offset":0.96951,"color":"#000"},{"offset":0.96951,"color":"#fff"},
{"offset":0.99024,"color":"#fff"},{"offset":0.99024,"color":"#000"},{"offset":1,"color":"#000"}
]}}, "encoding": {"y": {"datum": 0, "type": "quantitative", "scale": {"domain": [0, 250], "nice": false}}, "y2": {"datum": 250}}},
{"data": {"name": "box"}, "transform": [{"filter": "datum.panel === 'CCL5' && datum.group !== 'CON'"}], "mark": {"type": "bar", "fill": "white", "width": {"band": 1.12}}, "encoding": {"y": {"field": "q1", "type": "quantitative", "scale": {"domain": [0, 250], "nice": false}, "title": "Levels of  CCL5 in the serum (pg/ml)"}, "y2": {"datum": 0}}},
{"data": {"name": "box"}, "transform": [{"filter": "datum.panel === 'CCL5' && datum.group !== 'CON'"}], "mark": {"type": "bar", "fill": "white", "width": {"band": 1.12}}, "encoding": {"y": {"field": "q3", "type": "quantitative", "scale": {"domain": [0, 250], "nice": false}, "title": "Levels of  CCL5 in the serum (pg/ml)"}, "y2": {"datum": 250}}},
{"data": {"name": "box"}, "transform": [{"filter": "datum.panel === 'CCL5'"}], "mark": {"type": "bar", "fill": "white", "stroke": "black", "strokeWidth": 3}, "encoding": {"y": {"field": "q1", "type": "quantitative", "scale": {"domain": [0, 250], "nice": false}, "axis": {"values": [0,50,100,150,200,250], "format": "d", "zindex": 1, "titleFontSize": 21}, "title": "Levels of  CCL5 in the serum (pg/ml)"}, "y2": {"field": "q3"}, "fillOpacity": {"condition": {"test": "datum.group === 'CON'", "value": 1}, "value": 0}}},
{"data": {"name": "box"}, "transform": [{"filter": "datum.panel === 'CCL5' && datum.group === 'CON'"}, {"fold": ["lo", "q1", "med", "q3"], "as": ["k", "kv"]}], "mark": {"type": "rule", "color": "black", "strokeWidth": 3, "strokeDash": [3, 7.5], "strokeDashOffset": 6, "xOffset": {"expr": "indexof(['lo','q1','med','q3'], datum.k) * 10.5 - 15.75"}}, "encoding": {"y": {"field": "q1", "type": "quantitative", "scale": {"domain": [0, 250], "nice": false}, "title": "Levels of  CCL5 in the serum (pg/ml)"}, "y2": {"field": "q3"}}},
{"data": {"name": "box"}, "transform": [{"filter": "datum.panel === 'CCL5'"}], "mark": {"type": "tick", "color": "black", "opacity": 1, "thickness": 3, "size": 46}, "encoding": {"y": {"field": "med", "type": "quantitative", "scale": {"domain": [0, 250], "nice": false}, "title": "Levels of  CCL5 in the serum (pg/ml)"}}},
{"data": {"name": "box"}, "transform": [{"filter": "datum.panel === 'CCL5'"}], "mark": {"type": "rule", "color": "black", "strokeWidth": 3}, "encoding": {"y": {"field": "lo", "type": "quantitative", "scale": {"domain": [0, 250], "nice": false}, "title": "Levels of  CCL5 in the serum (pg/ml)"}, "y2": {"field": "q1"}}},
{"data": {"name": "box"}, "transform": [{"filter": "datum.panel === 'CCL5'"}], "mark": {"type": "rule", "color": "black", "strokeWidth": 3}, "encoding": {"y": {"field": "q3", "type": "quantitative", "scale": {"domain": [0, 250], "nice": false}, "title": "Levels of  CCL5 in the serum (pg/ml)"}, "y2": {"field": "hi"}}},
{"data": {"name": "box"}, "transform": [{"filter": "datum.panel === 'CCL5'"}, {"fold": ["lo", "hi"], "as": ["k", "v"]}], "mark": {"type": "tick", "color": "black", "opacity": 1, "thickness": 3, "size": 23}, "encoding": {"y": {"field": "v", "type": "quantitative", "scale": {"domain": [0, 250], "nice": false}, "title": "Levels of  CCL5 in the serum (pg/ml)"}}},
{"data": {"name": "pts"}, "transform": [{"filter": "datum.panel === 'CCL5'"}], "mark": {"type": "circle", "opacity": 1, "size": 154, "xOffset": {"expr": "datum.slot * 10"}}, "encoding": {"y": {"field": "v", "type": "quantitative", "scale": {"domain": [0, 250], "nice": false}, "title": "Levels of  CCL5 in the serum (pg/ml)"}, "color": {"condition": {"test": "datum.group === 'CON'", "value": "#00008b"}, "value": "#a50000"}}}
]
}
]}
]},
{"spacing": 31, "hconcat": [
{
"width": 534, "height": 364,
"title": {"text": "CXCL1", "dx": 17},
"encoding": {"x": {"field": "group", "type": "nominal", "title": null, "axis": {"zindex": 1}, "scale": {"type": "band", "domain": ["IS-20","IS-22","IS-26","IS-33","IS-40","IS-47","CON"], "paddingInner": 0.36, "paddingOuter": 0.383}}},
"layer": [
{"data": {"name": "box"}, "transform": [{"filter": "datum.panel === 'CXCL1' && datum.group !== 'CON'"}], "mark": {"type": "bar", "fill": {"gradient": "linear", "x1": 0, "y1": 0, "x2": 0.1401, "y2": 1.1087, "stops": [
{"offset":0.01463,"color":"#fff"},{"offset":0.01463,"color":"#000"},{"offset":0.02439,"color":"#000"},{"offset":0.02439,"color":"#fff"},
{"offset":0.04512,"color":"#fff"},{"offset":0.04512,"color":"#000"},{"offset":0.05488,"color":"#000"},{"offset":0.05488,"color":"#fff"},
{"offset":0.07561,"color":"#fff"},{"offset":0.07561,"color":"#000"},{"offset":0.08537,"color":"#000"},{"offset":0.08537,"color":"#fff"},
{"offset":0.1061,"color":"#fff"},{"offset":0.1061,"color":"#000"},{"offset":0.11585,"color":"#000"},{"offset":0.11585,"color":"#fff"},
{"offset":0.13659,"color":"#fff"},{"offset":0.13659,"color":"#000"},{"offset":0.14634,"color":"#000"},{"offset":0.14634,"color":"#fff"},
{"offset":0.16707,"color":"#fff"},{"offset":0.16707,"color":"#000"},{"offset":0.17683,"color":"#000"},{"offset":0.17683,"color":"#fff"},
{"offset":0.19756,"color":"#fff"},{"offset":0.19756,"color":"#000"},{"offset":0.20732,"color":"#000"},{"offset":0.20732,"color":"#fff"},
{"offset":0.22805,"color":"#fff"},{"offset":0.22805,"color":"#000"},{"offset":0.2378,"color":"#000"},{"offset":0.2378,"color":"#fff"},
{"offset":0.25854,"color":"#fff"},{"offset":0.25854,"color":"#000"},{"offset":0.26829,"color":"#000"},{"offset":0.26829,"color":"#fff"},
{"offset":0.28902,"color":"#fff"},{"offset":0.28902,"color":"#000"},{"offset":0.29878,"color":"#000"},{"offset":0.29878,"color":"#fff"},
{"offset":0.31951,"color":"#fff"},{"offset":0.31951,"color":"#000"},{"offset":0.32927,"color":"#000"},{"offset":0.32927,"color":"#fff"},
{"offset":0.35,"color":"#fff"},{"offset":0.35,"color":"#000"},{"offset":0.35976,"color":"#000"},{"offset":0.35976,"color":"#fff"},
{"offset":0.38049,"color":"#fff"},{"offset":0.38049,"color":"#000"},{"offset":0.39024,"color":"#000"},{"offset":0.39024,"color":"#fff"},
{"offset":0.41098,"color":"#fff"},{"offset":0.41098,"color":"#000"},{"offset":0.42073,"color":"#000"},{"offset":0.42073,"color":"#fff"},
{"offset":0.44146,"color":"#fff"},{"offset":0.44146,"color":"#000"},{"offset":0.45122,"color":"#000"},{"offset":0.45122,"color":"#fff"},
{"offset":0.47195,"color":"#fff"},{"offset":0.47195,"color":"#000"},{"offset":0.48171,"color":"#000"},{"offset":0.48171,"color":"#fff"},
{"offset":0.50244,"color":"#fff"},{"offset":0.50244,"color":"#000"},{"offset":0.5122,"color":"#000"},{"offset":0.5122,"color":"#fff"},
{"offset":0.53293,"color":"#fff"},{"offset":0.53293,"color":"#000"},{"offset":0.54268,"color":"#000"},{"offset":0.54268,"color":"#fff"},
{"offset":0.56341,"color":"#fff"},{"offset":0.56341,"color":"#000"},{"offset":0.57317,"color":"#000"},{"offset":0.57317,"color":"#fff"},
{"offset":0.5939,"color":"#fff"},{"offset":0.5939,"color":"#000"},{"offset":0.60366,"color":"#000"},{"offset":0.60366,"color":"#fff"},
{"offset":0.62439,"color":"#fff"},{"offset":0.62439,"color":"#000"},{"offset":0.63415,"color":"#000"},{"offset":0.63415,"color":"#fff"},
{"offset":0.65488,"color":"#fff"},{"offset":0.65488,"color":"#000"},{"offset":0.66463,"color":"#000"},{"offset":0.66463,"color":"#fff"},
{"offset":0.68537,"color":"#fff"},{"offset":0.68537,"color":"#000"},{"offset":0.69512,"color":"#000"},{"offset":0.69512,"color":"#fff"},
{"offset":0.71585,"color":"#fff"},{"offset":0.71585,"color":"#000"},{"offset":0.72561,"color":"#000"},{"offset":0.72561,"color":"#fff"},
{"offset":0.74634,"color":"#fff"},{"offset":0.74634,"color":"#000"},{"offset":0.7561,"color":"#000"},{"offset":0.7561,"color":"#fff"},
{"offset":0.77683,"color":"#fff"},{"offset":0.77683,"color":"#000"},{"offset":0.78659,"color":"#000"},{"offset":0.78659,"color":"#fff"},
{"offset":0.80732,"color":"#fff"},{"offset":0.80732,"color":"#000"},{"offset":0.81707,"color":"#000"},{"offset":0.81707,"color":"#fff"},
{"offset":0.8378,"color":"#fff"},{"offset":0.8378,"color":"#000"},{"offset":0.84756,"color":"#000"},{"offset":0.84756,"color":"#fff"},
{"offset":0.86829,"color":"#fff"},{"offset":0.86829,"color":"#000"},{"offset":0.87805,"color":"#000"},{"offset":0.87805,"color":"#fff"},
{"offset":0.89878,"color":"#fff"},{"offset":0.89878,"color":"#000"},{"offset":0.90854,"color":"#000"},{"offset":0.90854,"color":"#fff"},
{"offset":0.92927,"color":"#fff"},{"offset":0.92927,"color":"#000"},{"offset":0.93902,"color":"#000"},{"offset":0.93902,"color":"#fff"},
{"offset":0.95976,"color":"#fff"},{"offset":0.95976,"color":"#000"},{"offset":0.96951,"color":"#000"},{"offset":0.96951,"color":"#fff"},
{"offset":0.99024,"color":"#fff"},{"offset":0.99024,"color":"#000"},{"offset":1,"color":"#000"}
]}}, "encoding": {"y": {"datum": 0, "type": "quantitative", "scale": {"domain": [0, 400], "nice": false}}, "y2": {"datum": 400}}},
{"data": {"name": "box"}, "transform": [{"filter": "datum.panel === 'CXCL1' && datum.group !== 'CON'"}], "mark": {"type": "bar", "fill": "white", "width": {"band": 1.12}}, "encoding": {"y": {"field": "q1", "type": "quantitative", "scale": {"domain": [0, 400], "nice": false}, "title": "Levels of  CXCL1 in the serum (pg/ml)"}, "y2": {"datum": 0}}},
{"data": {"name": "box"}, "transform": [{"filter": "datum.panel === 'CXCL1' && datum.group !== 'CON'"}], "mark": {"type": "bar", "fill": "white", "width": {"band": 1.12}}, "encoding": {"y": {"field": "q3", "type": "quantitative", "scale": {"domain": [0, 400], "nice": false}, "title": "Levels of  CXCL1 in the serum (pg/ml)"}, "y2": {"datum": 400}}},
{"data": {"name": "box"}, "transform": [{"filter": "datum.panel === 'CXCL1'"}], "mark": {"type": "bar", "fill": "white", "stroke": "black", "strokeWidth": 3}, "encoding": {"y": {"field": "q1", "type": "quantitative", "scale": {"domain": [0, 400], "nice": false}, "axis": {"values": [0,100,200,300,400], "format": "d", "zindex": 1, "titleFontSize": 20.5}, "title": "Levels of  CXCL1 in the serum (pg/ml)"}, "y2": {"field": "q3"}, "fillOpacity": {"condition": {"test": "datum.group === 'CON'", "value": 1}, "value": 0}}},
{"data": {"name": "box"}, "transform": [{"filter": "datum.panel === 'CXCL1' && datum.group === 'CON'"}, {"fold": ["lo", "q1", "med", "q3"], "as": ["k", "kv"]}], "mark": {"type": "rule", "color": "black", "strokeWidth": 3, "strokeDash": [3, 7.5], "strokeDashOffset": 6, "xOffset": {"expr": "indexof(['lo','q1','med','q3'], datum.k) * 10.5 - 15.75"}}, "encoding": {"y": {"field": "q1", "type": "quantitative", "scale": {"domain": [0, 400], "nice": false}, "title": "Levels of  CXCL1 in the serum (pg/ml)"}, "y2": {"field": "q3"}}},
{"data": {"name": "box"}, "transform": [{"filter": "datum.panel === 'CXCL1'"}], "mark": {"type": "tick", "color": "black", "opacity": 1, "thickness": 3, "size": 46}, "encoding": {"y": {"field": "med", "type": "quantitative", "scale": {"domain": [0, 400], "nice": false}, "title": "Levels of  CXCL1 in the serum (pg/ml)"}}},
{"data": {"name": "box"}, "transform": [{"filter": "datum.panel === 'CXCL1'"}], "mark": {"type": "rule", "color": "black", "strokeWidth": 3}, "encoding": {"y": {"field": "lo", "type": "quantitative", "scale": {"domain": [0, 400], "nice": false}, "title": "Levels of  CXCL1 in the serum (pg/ml)"}, "y2": {"field": "q1"}}},
{"data": {"name": "box"}, "transform": [{"filter": "datum.panel === 'CXCL1'"}], "mark": {"type": "rule", "color": "black", "strokeWidth": 3}, "encoding": {"y": {"field": "q3", "type": "quantitative", "scale": {"domain": [0, 400], "nice": false}, "title": "Levels of  CXCL1 in the serum (pg/ml)"}, "y2": {"field": "hi"}}},
{"data": {"name": "box"}, "transform": [{"filter": "datum.panel === 'CXCL1'"}, {"fold": ["lo", "hi"], "as": ["k", "v"]}], "mark": {"type": "tick", "color": "black", "opacity": 1, "thickness": 3, "size": 22}, "encoding": {"y": {"field": "v", "type": "quantitative", "scale": {"domain": [0, 400], "nice": false}, "title": "Levels of  CXCL1 in the serum (pg/ml)"}}},
{"data": {"name": "pts"}, "transform": [{"filter": "datum.panel === 'CXCL1'"}], "mark": {"type": "circle", "opacity": 1, "size": 133, "xOffset": {"expr": "datum.slot * 10"}}, "encoding": {"y": {"field": "v", "type": "quantitative", "scale": {"domain": [0, 400], "nice": false}, "title": "Levels of  CXCL1 in the serum (pg/ml)"}, "color": {"condition": {"test": "datum.group === 'CON'", "value": "#00008b"}, "value": "#a50000"}}}
]
},
{"spacing": 171, "hconcat": [
{
"width": 420, "height": 364,
"title": {"text": "CXCL13", "dx": 30},
"encoding": {"x": {"field": "group", "type": "nominal", "title": null, "axis": {"zindex": 1}, "scale": {"type": "band", "domain": ["IS-20","IS-22","IS-26","IS-33","IS-40","IS-47","CON"], "paddingInner": 0.36, "paddingOuter": 0.377}}},
"layer": [
{"data": {"name": "box"}, "transform": [{"filter": "datum.panel === 'CXCL13' && datum.group !== 'CON'"}], "mark": {"type": "bar", "fill": {"gradient": "linear", "x1": 0, "y1": 0, "x2": 0.1108, "y2": 1.0904, "stops": [
{"offset":0.01496,"color":"#fff"},{"offset":0.01496,"color":"#000"},{"offset":0.02494,"color":"#000"},{"offset":0.02494,"color":"#fff"},
{"offset":0.04613,"color":"#fff"},{"offset":0.04613,"color":"#000"},{"offset":0.05611,"color":"#000"},{"offset":0.05611,"color":"#fff"},
{"offset":0.07731,"color":"#fff"},{"offset":0.07731,"color":"#000"},{"offset":0.08728,"color":"#000"},{"offset":0.08728,"color":"#fff"},
{"offset":0.10848,"color":"#fff"},{"offset":0.10848,"color":"#000"},{"offset":0.11845,"color":"#000"},{"offset":0.11845,"color":"#fff"},
{"offset":0.13965,"color":"#fff"},{"offset":0.13965,"color":"#000"},{"offset":0.14963,"color":"#000"},{"offset":0.14963,"color":"#fff"},
{"offset":0.17082,"color":"#fff"},{"offset":0.17082,"color":"#000"},{"offset":0.1808,"color":"#000"},{"offset":0.1808,"color":"#fff"},
{"offset":0.202,"color":"#fff"},{"offset":0.202,"color":"#000"},{"offset":0.21197,"color":"#000"},{"offset":0.21197,"color":"#fff"},
{"offset":0.23317,"color":"#fff"},{"offset":0.23317,"color":"#000"},{"offset":0.24314,"color":"#000"},{"offset":0.24314,"color":"#fff"},
{"offset":0.26434,"color":"#fff"},{"offset":0.26434,"color":"#000"},{"offset":0.27431,"color":"#000"},{"offset":0.27431,"color":"#fff"},
{"offset":0.29551,"color":"#fff"},{"offset":0.29551,"color":"#000"},{"offset":0.30549,"color":"#000"},{"offset":0.30549,"color":"#fff"},
{"offset":0.32668,"color":"#fff"},{"offset":0.32668,"color":"#000"},{"offset":0.33666,"color":"#000"},{"offset":0.33666,"color":"#fff"},
{"offset":0.35786,"color":"#fff"},{"offset":0.35786,"color":"#000"},{"offset":0.36783,"color":"#000"},{"offset":0.36783,"color":"#fff"},
{"offset":0.38903,"color":"#fff"},{"offset":0.38903,"color":"#000"},{"offset":0.399,"color":"#000"},{"offset":0.399,"color":"#fff"},
{"offset":0.4202,"color":"#fff"},{"offset":0.4202,"color":"#000"},{"offset":0.43017,"color":"#000"},{"offset":0.43017,"color":"#fff"},
{"offset":0.45137,"color":"#fff"},{"offset":0.45137,"color":"#000"},{"offset":0.46135,"color":"#000"},{"offset":0.46135,"color":"#fff"},
{"offset":0.48254,"color":"#fff"},{"offset":0.48254,"color":"#000"},{"offset":0.49252,"color":"#000"},{"offset":0.49252,"color":"#fff"},
{"offset":0.51372,"color":"#fff"},{"offset":0.51372,"color":"#000"},{"offset":0.52369,"color":"#000"},{"offset":0.52369,"color":"#fff"},
{"offset":0.54489,"color":"#fff"},{"offset":0.54489,"color":"#000"},{"offset":0.55486,"color":"#000"},{"offset":0.55486,"color":"#fff"},
{"offset":0.57606,"color":"#fff"},{"offset":0.57606,"color":"#000"},{"offset":0.58603,"color":"#000"},{"offset":0.58603,"color":"#fff"},
{"offset":0.60723,"color":"#fff"},{"offset":0.60723,"color":"#000"},{"offset":0.61721,"color":"#000"},{"offset":0.61721,"color":"#fff"},
{"offset":0.6384,"color":"#fff"},{"offset":0.6384,"color":"#000"},{"offset":0.64838,"color":"#000"},{"offset":0.64838,"color":"#fff"},
{"offset":0.66958,"color":"#fff"},{"offset":0.66958,"color":"#000"},{"offset":0.67955,"color":"#000"},{"offset":0.67955,"color":"#fff"},
{"offset":0.70075,"color":"#fff"},{"offset":0.70075,"color":"#000"},{"offset":0.71072,"color":"#000"},{"offset":0.71072,"color":"#fff"},
{"offset":0.73192,"color":"#fff"},{"offset":0.73192,"color":"#000"},{"offset":0.7419,"color":"#000"},{"offset":0.7419,"color":"#fff"},
{"offset":0.76309,"color":"#fff"},{"offset":0.76309,"color":"#000"},{"offset":0.77307,"color":"#000"},{"offset":0.77307,"color":"#fff"},
{"offset":0.79426,"color":"#fff"},{"offset":0.79426,"color":"#000"},{"offset":0.80424,"color":"#000"},{"offset":0.80424,"color":"#fff"},
{"offset":0.82544,"color":"#fff"},{"offset":0.82544,"color":"#000"},{"offset":0.83541,"color":"#000"},{"offset":0.83541,"color":"#fff"},
{"offset":0.85661,"color":"#fff"},{"offset":0.85661,"color":"#000"},{"offset":0.86658,"color":"#000"},{"offset":0.86658,"color":"#fff"},
{"offset":0.88778,"color":"#fff"},{"offset":0.88778,"color":"#000"},{"offset":0.89776,"color":"#000"},{"offset":0.89776,"color":"#fff"},
{"offset":0.91895,"color":"#fff"},{"offset":0.91895,"color":"#000"},{"offset":0.92893,"color":"#000"},{"offset":0.92893,"color":"#fff"},
{"offset":0.95012,"color":"#fff"},{"offset":0.95012,"color":"#000"},{"offset":0.9601,"color":"#000"},{"offset":0.9601,"color":"#fff"},
{"offset":0.9813,"color":"#fff"},{"offset":0.9813,"color":"#000"},{"offset":0.99127,"color":"#000"},{"offset":0.99127,"color":"#fff"}
]}}, "encoding": {"y": {"datum": 0, "type": "quantitative", "scale": {"domain": [0, 1500], "nice": false}}, "y2": {"datum": 1500}}},
{"data": {"name": "box"}, "transform": [{"filter": "datum.panel === 'CXCL13' && datum.group !== 'CON'"}], "mark": {"type": "bar", "fill": "white", "width": {"band": 1.12}}, "encoding": {"y": {"field": "q1", "type": "quantitative", "scale": {"domain": [0, 1500], "nice": false}, "title": "Levels of  CXCL13 in the serum (pg/ml)"}, "y2": {"datum": 0}}},
{"data": {"name": "box"}, "transform": [{"filter": "datum.panel === 'CXCL13' && datum.group !== 'CON'"}], "mark": {"type": "bar", "fill": "white", "width": {"band": 1.12}}, "encoding": {"y": {"field": "q3", "type": "quantitative", "scale": {"domain": [0, 1500], "nice": false}, "title": "Levels of  CXCL13 in the serum (pg/ml)"}, "y2": {"datum": 1500}}},
{"data": {"name": "box"}, "transform": [{"filter": "datum.panel === 'CXCL13'"}], "mark": {"type": "bar", "fill": "white", "stroke": "black", "strokeWidth": 3}, "encoding": {"y": {"field": "q1", "type": "quantitative", "scale": {"domain": [0, 1500], "nice": false}, "axis": {"values": [0,500,1000,1500], "format": "d", "zindex": 1, "titleFontSize": 20}, "title": "Levels of  CXCL13 in the serum (pg/ml)"}, "y2": {"field": "q3"}, "fillOpacity": {"condition": {"test": "datum.group === 'CON'", "value": 1}, "value": 0}}},
{"data": {"name": "box"}, "transform": [{"filter": "datum.panel === 'CXCL13' && datum.group === 'CON'"}, {"fold": ["lo", "q1", "med", "q3"], "as": ["k", "kv"]}], "mark": {"type": "rule", "color": "black", "strokeWidth": 3, "strokeDash": [3, 6], "strokeDashOffset": 5, "xOffset": {"expr": "indexof(['lo','q1','med','q3'], datum.k) * 9 - 13.5"}}, "encoding": {"y": {"field": "q1", "type": "quantitative", "scale": {"domain": [0, 1500], "nice": false}, "title": "Levels of  CXCL13 in the serum (pg/ml)"}, "y2": {"field": "q3"}}},
{"data": {"name": "box"}, "transform": [{"filter": "datum.panel === 'CXCL13'"}], "mark": {"type": "tick", "color": "black", "opacity": 1, "thickness": 3, "size": 36}, "encoding": {"y": {"field": "med", "type": "quantitative", "scale": {"domain": [0, 1500], "nice": false}, "title": "Levels of  CXCL13 in the serum (pg/ml)"}}},
{"data": {"name": "box"}, "transform": [{"filter": "datum.panel === 'CXCL13'"}], "mark": {"type": "rule", "color": "black", "strokeWidth": 3}, "encoding": {"y": {"field": "lo", "type": "quantitative", "scale": {"domain": [0, 1500], "nice": false}, "title": "Levels of  CXCL13 in the serum (pg/ml)"}, "y2": {"field": "q1"}}},
{"data": {"name": "box"}, "transform": [{"filter": "datum.panel === 'CXCL13'"}], "mark": {"type": "rule", "color": "black", "strokeWidth": 3}, "encoding": {"y": {"field": "q3", "type": "quantitative", "scale": {"domain": [0, 1500], "nice": false}, "title": "Levels of  CXCL13 in the serum (pg/ml)"}, "y2": {"field": "hi"}}},
{"data": {"name": "box"}, "transform": [{"filter": "datum.panel === 'CXCL13'"}, {"fold": ["lo", "hi"], "as": ["k", "v"]}], "mark": {"type": "tick", "color": "black", "opacity": 1, "thickness": 3, "size": 18}, "encoding": {"y": {"field": "v", "type": "quantitative", "scale": {"domain": [0, 1500], "nice": false}, "title": "Levels of  CXCL13 in the serum (pg/ml)"}}},
{"data": {"name": "pts"}, "transform": [{"filter": "datum.panel === 'CXCL13'"}], "mark": {"type": "circle", "opacity": 1, "size": 106, "xOffset": {"expr": "datum.slot * 10"}}, "encoding": {"y": {"field": "v", "type": "quantitative", "scale": {"domain": [0, 1500], "nice": false}, "title": "Levels of  CXCL13 in the serum (pg/ml)"}, "color": {"condition": {"test": "datum.group === 'CON'", "value": "#00008b"}, "value": "#a50000"}}}
]
},
{
"width": 554, "height": 364,
"title": {"text": "M-CSF", "dx": 11},
"layer": [
{"data": {"name": "box"}, "transform": [{"filter": "datum.panel === 'M-CSF' && datum.group !== 'CON'"}], "mark": {"type": "bar", "fill": {"gradient": "linear", "x1": 0, "y1": 0, "x2": 0.1108, "y2": 1.0904, "stops": [
{"offset":0.01496,"color":"#fff"},{"offset":0.01496,"color":"#000"},{"offset":0.02494,"color":"#000"},{"offset":0.02494,"color":"#fff"},
{"offset":0.04613,"color":"#fff"},{"offset":0.04613,"color":"#000"},{"offset":0.05611,"color":"#000"},{"offset":0.05611,"color":"#fff"},
{"offset":0.07731,"color":"#fff"},{"offset":0.07731,"color":"#000"},{"offset":0.08728,"color":"#000"},{"offset":0.08728,"color":"#fff"},
{"offset":0.10848,"color":"#fff"},{"offset":0.10848,"color":"#000"},{"offset":0.11845,"color":"#000"},{"offset":0.11845,"color":"#fff"},
{"offset":0.13965,"color":"#fff"},{"offset":0.13965,"color":"#000"},{"offset":0.14963,"color":"#000"},{"offset":0.14963,"color":"#fff"},
{"offset":0.17082,"color":"#fff"},{"offset":0.17082,"color":"#000"},{"offset":0.1808,"color":"#000"},{"offset":0.1808,"color":"#fff"},
{"offset":0.202,"color":"#fff"},{"offset":0.202,"color":"#000"},{"offset":0.21197,"color":"#000"},{"offset":0.21197,"color":"#fff"},
{"offset":0.23317,"color":"#fff"},{"offset":0.23317,"color":"#000"},{"offset":0.24314,"color":"#000"},{"offset":0.24314,"color":"#fff"},
{"offset":0.26434,"color":"#fff"},{"offset":0.26434,"color":"#000"},{"offset":0.27431,"color":"#000"},{"offset":0.27431,"color":"#fff"},
{"offset":0.29551,"color":"#fff"},{"offset":0.29551,"color":"#000"},{"offset":0.30549,"color":"#000"},{"offset":0.30549,"color":"#fff"},
{"offset":0.32668,"color":"#fff"},{"offset":0.32668,"color":"#000"},{"offset":0.33666,"color":"#000"},{"offset":0.33666,"color":"#fff"},
{"offset":0.35786,"color":"#fff"},{"offset":0.35786,"color":"#000"},{"offset":0.36783,"color":"#000"},{"offset":0.36783,"color":"#fff"},
{"offset":0.38903,"color":"#fff"},{"offset":0.38903,"color":"#000"},{"offset":0.399,"color":"#000"},{"offset":0.399,"color":"#fff"},
{"offset":0.4202,"color":"#fff"},{"offset":0.4202,"color":"#000"},{"offset":0.43017,"color":"#000"},{"offset":0.43017,"color":"#fff"},
{"offset":0.45137,"color":"#fff"},{"offset":0.45137,"color":"#000"},{"offset":0.46135,"color":"#000"},{"offset":0.46135,"color":"#fff"},
{"offset":0.48254,"color":"#fff"},{"offset":0.48254,"color":"#000"},{"offset":0.49252,"color":"#000"},{"offset":0.49252,"color":"#fff"},
{"offset":0.51372,"color":"#fff"},{"offset":0.51372,"color":"#000"},{"offset":0.52369,"color":"#000"},{"offset":0.52369,"color":"#fff"},
{"offset":0.54489,"color":"#fff"},{"offset":0.54489,"color":"#000"},{"offset":0.55486,"color":"#000"},{"offset":0.55486,"color":"#fff"},
{"offset":0.57606,"color":"#fff"},{"offset":0.57606,"color":"#000"},{"offset":0.58603,"color":"#000"},{"offset":0.58603,"color":"#fff"},
{"offset":0.60723,"color":"#fff"},{"offset":0.60723,"color":"#000"},{"offset":0.61721,"color":"#000"},{"offset":0.61721,"color":"#fff"},
{"offset":0.6384,"color":"#fff"},{"offset":0.6384,"color":"#000"},{"offset":0.64838,"color":"#000"},{"offset":0.64838,"color":"#fff"},
{"offset":0.66958,"color":"#fff"},{"offset":0.66958,"color":"#000"},{"offset":0.67955,"color":"#000"},{"offset":0.67955,"color":"#fff"},
{"offset":0.70075,"color":"#fff"},{"offset":0.70075,"color":"#000"},{"offset":0.71072,"color":"#000"},{"offset":0.71072,"color":"#fff"},
{"offset":0.73192,"color":"#fff"},{"offset":0.73192,"color":"#000"},{"offset":0.7419,"color":"#000"},{"offset":0.7419,"color":"#fff"},
{"offset":0.76309,"color":"#fff"},{"offset":0.76309,"color":"#000"},{"offset":0.77307,"color":"#000"},{"offset":0.77307,"color":"#fff"},
{"offset":0.79426,"color":"#fff"},{"offset":0.79426,"color":"#000"},{"offset":0.80424,"color":"#000"},{"offset":0.80424,"color":"#fff"},
{"offset":0.82544,"color":"#fff"},{"offset":0.82544,"color":"#000"},{"offset":0.83541,"color":"#000"},{"offset":0.83541,"color":"#fff"},
{"offset":0.85661,"color":"#fff"},{"offset":0.85661,"color":"#000"},{"offset":0.86658,"color":"#000"},{"offset":0.86658,"color":"#fff"},
{"offset":0.88778,"color":"#fff"},{"offset":0.88778,"color":"#000"},{"offset":0.89776,"color":"#000"},{"offset":0.89776,"color":"#fff"},
{"offset":0.91895,"color":"#fff"},{"offset":0.91895,"color":"#000"},{"offset":0.92893,"color":"#000"},{"offset":0.92893,"color":"#fff"},
{"offset":0.95012,"color":"#fff"},{"offset":0.95012,"color":"#000"},{"offset":0.9601,"color":"#000"},{"offset":0.9601,"color":"#fff"},
{"offset":0.9813,"color":"#fff"},{"offset":0.9813,"color":"#000"},{"offset":0.99127,"color":"#000"},{"offset":0.99127,"color":"#fff"}
]}}, "encoding": {"x": {"field": "group", "type": "nominal", "title": null, "scale": {"type": "band", "domain": ["IS-20","IS-22","IS-26","IS-33","IS-40","IS-47","CON"], "paddingInner": 0.36, "paddingOuter": 0.377, "range": [0, 432]}, "axis": {"domain": false, "zindex": 1}}, "y": {"datum": 0, "type": "quantitative", "scale": {"domain": [0, 40], "nice": false}}, "y2": {"datum": 40}}},
{"data": {"name": "box"}, "transform": [{"filter": "datum.panel === 'M-CSF' && datum.group !== 'CON'"}], "mark": {"type": "bar", "fill": "white", "width": {"band": 1.12}}, "encoding": {"x": {"field": "group", "type": "nominal", "title": null, "scale": {"type": "band", "domain": ["IS-20","IS-22","IS-26","IS-33","IS-40","IS-47","CON"], "paddingInner": 0.36, "paddingOuter": 0.377, "range": [0, 432]}, "axis": {"domain": false, "zindex": 1}}, "y": {"field": "q1", "type": "quantitative", "scale": {"domain": [0, 40], "nice": false}, "title": "Levels of  M-CSF in the serum (pg/ml)"}, "y2": {"datum": 0}}},
{"data": {"name": "box"}, "transform": [{"filter": "datum.panel === 'M-CSF' && datum.group !== 'CON'"}], "mark": {"type": "bar", "fill": "white", "width": {"band": 1.12}}, "encoding": {"x": {"field": "group", "type": "nominal", "title": null, "scale": {"type": "band", "domain": ["IS-20","IS-22","IS-26","IS-33","IS-40","IS-47","CON"], "paddingInner": 0.36, "paddingOuter": 0.377, "range": [0, 432]}, "axis": {"domain": false, "zindex": 1}}, "y": {"field": "q3", "type": "quantitative", "scale": {"domain": [0, 40], "nice": false}, "title": "Levels of  M-CSF in the serum (pg/ml)"}, "y2": {"datum": 40}}},
{"data": {"name": "box"}, "transform": [{"filter": "datum.panel === 'M-CSF'"}], "mark": {"type": "bar", "fill": "white", "stroke": "black", "strokeWidth": 3}, "encoding": {"x": {"field": "group", "type": "nominal", "title": null, "scale": {"type": "band", "domain": ["IS-20","IS-22","IS-26","IS-33","IS-40","IS-47","CON"], "paddingInner": 0.36, "paddingOuter": 0.377, "range": [0, 432]}, "axis": {"domain": false, "zindex": 1}}, "y": {"field": "q1", "type": "quantitative", "scale": {"domain": [0, 40], "nice": false}, "axis": {"values": [0,10,20,30,40], "format": "d", "zindex": 1, "titleFontSize": 20.5}, "title": "Levels of  M-CSF in the serum (pg/ml)"}, "y2": {"field": "q3"}, "fillOpacity": {"condition": {"test": "datum.group === 'CON'", "value": 1}, "value": 0}}},
{"data": {"name": "box"}, "transform": [{"filter": "datum.panel === 'M-CSF' && datum.group === 'CON'"}, {"fold": ["lo", "q1", "med", "q3"], "as": ["k", "kv"]}], "mark": {"type": "rule", "color": "black", "strokeWidth": 3, "strokeDash": [3, 6], "strokeDashOffset": 5, "xOffset": {"expr": "indexof(['lo','q1','med','q3'], datum.k) * 9 - 13.5"}}, "encoding": {"x": {"field": "group", "type": "nominal", "title": null, "scale": {"type": "band", "domain": ["IS-20","IS-22","IS-26","IS-33","IS-40","IS-47","CON"], "paddingInner": 0.36, "paddingOuter": 0.377, "range": [0, 432]}, "axis": {"domain": false, "zindex": 1}}, "y": {"field": "q1", "type": "quantitative", "scale": {"domain": [0, 40], "nice": false}, "title": "Levels of  M-CSF in the serum (pg/ml)"}, "y2": {"field": "q3"}}},
{"data": {"name": "box"}, "transform": [{"filter": "datum.panel === 'M-CSF'"}], "mark": {"type": "tick", "color": "black", "opacity": 1, "thickness": 3, "size": 37}, "encoding": {"x": {"field": "group", "type": "nominal", "title": null, "scale": {"type": "band", "domain": ["IS-20","IS-22","IS-26","IS-33","IS-40","IS-47","CON"], "paddingInner": 0.36, "paddingOuter": 0.377, "range": [0, 432]}, "axis": {"domain": false, "zindex": 1}}, "y": {"field": "med", "type": "quantitative", "scale": {"domain": [0, 40], "nice": false}, "title": "Levels of  M-CSF in the serum (pg/ml)"}}},
{"data": {"name": "box"}, "transform": [{"filter": "datum.panel === 'M-CSF'"}], "mark": {"type": "rule", "color": "black", "strokeWidth": 3}, "encoding": {"x": {"field": "group", "type": "nominal", "title": null, "scale": {"type": "band", "domain": ["IS-20","IS-22","IS-26","IS-33","IS-40","IS-47","CON"], "paddingInner": 0.36, "paddingOuter": 0.377, "range": [0, 432]}, "axis": {"domain": false, "zindex": 1}}, "y": {"field": "lo", "type": "quantitative", "scale": {"domain": [0, 40], "nice": false}, "title": "Levels of  M-CSF in the serum (pg/ml)"}, "y2": {"field": "q1"}}},
{"data": {"name": "box"}, "transform": [{"filter": "datum.panel === 'M-CSF'"}], "mark": {"type": "rule", "color": "black", "strokeWidth": 3}, "encoding": {"x": {"field": "group", "type": "nominal", "title": null, "scale": {"type": "band", "domain": ["IS-20","IS-22","IS-26","IS-33","IS-40","IS-47","CON"], "paddingInner": 0.36, "paddingOuter": 0.377, "range": [0, 432]}, "axis": {"domain": false, "zindex": 1}}, "y": {"field": "q3", "type": "quantitative", "scale": {"domain": [0, 40], "nice": false}, "title": "Levels of  M-CSF in the serum (pg/ml)"}, "y2": {"field": "hi"}}},
{"data": {"name": "box"}, "transform": [{"filter": "datum.panel === 'M-CSF'"}, {"fold": ["lo", "hi"], "as": ["k", "v"]}], "mark": {"type": "tick", "color": "black", "opacity": 1, "thickness": 3, "size": 18}, "encoding": {"x": {"field": "group", "type": "nominal", "title": null, "scale": {"type": "band", "domain": ["IS-20","IS-22","IS-26","IS-33","IS-40","IS-47","CON"], "paddingInner": 0.36, "paddingOuter": 0.377, "range": [0, 432]}, "axis": {"domain": false, "zindex": 1}}, "y": {"field": "v", "type": "quantitative", "scale": {"domain": [0, 40], "nice": false}, "title": "Levels of  M-CSF in the serum (pg/ml)"}}},
{"data": {"name": "pts"}, "transform": [{"filter": "datum.panel === 'M-CSF'"}], "mark": {"type": "circle", "opacity": 1, "size": 120, "xOffset": {"expr": "datum.slot * 10"}}, "encoding": {"x": {"field": "group", "type": "nominal", "title": null, "scale": {"type": "band", "domain": ["IS-20","IS-22","IS-26","IS-33","IS-40","IS-47","CON"], "paddingInner": 0.36, "paddingOuter": 0.377, "range": [0, 432]}, "axis": {"domain": false, "zindex": 1}}, "y": {"field": "v", "type": "quantitative", "scale": {"domain": [0, 40], "nice": false}, "title": "Levels of  M-CSF in the serum (pg/ml)"}, "color": {"condition": {"test": "datum.group === 'CON'", "value": "#00008b"}, "value": "#a50000"}}},
{"data": {"name": "box"}, "transform": [{"filter": "datum.panel === 'M-CSF' && datum.group === 'CON'"}], "mark": {"type": "rule", "color": "black", "strokeWidth": 3}, "encoding": {"y": {"datum": 0, "type": "quantitative", "scale": {"domain": [0, 40], "nice": false}}}}
]
}
]}
]}
],
"spacing": 62,
"config": {
"font": "Liberation Sans",
"view": {"stroke": null},
"axis": {"grid": false, "domainColor": "#000", "domainWidth": 3, "domainCap": "square", "tickColor": "#000", "tickWidth": 3, "tickSize": 8, "labelColor": "#000", "labelFont": "Liberation Sans", "labelFontWeight": "bold", "labelFontSize": 19, "titleColor": "#000", "titleFont": "Liberation Sans", "titleFontWeight": "bold", "titleFontSize": 21, "zindex": 1, "labelOverlap": false, "titleLimit": 1000},
"axisY": {"labelPadding": 3, "titlePadding": 14},
"axisX": {"labelAngle": -45, "labelAlign": "right", "labelBaseline": "middle", "labelPadding": 3, "labelFontSize": 20},
"title": {"font": "Liberation Sans", "fontSize": 30, "fontWeight": "bold", "anchor": "start", "color": "#000", "offset": 1, "baseline": "alphabetic", "frame": "group"}
}
}
